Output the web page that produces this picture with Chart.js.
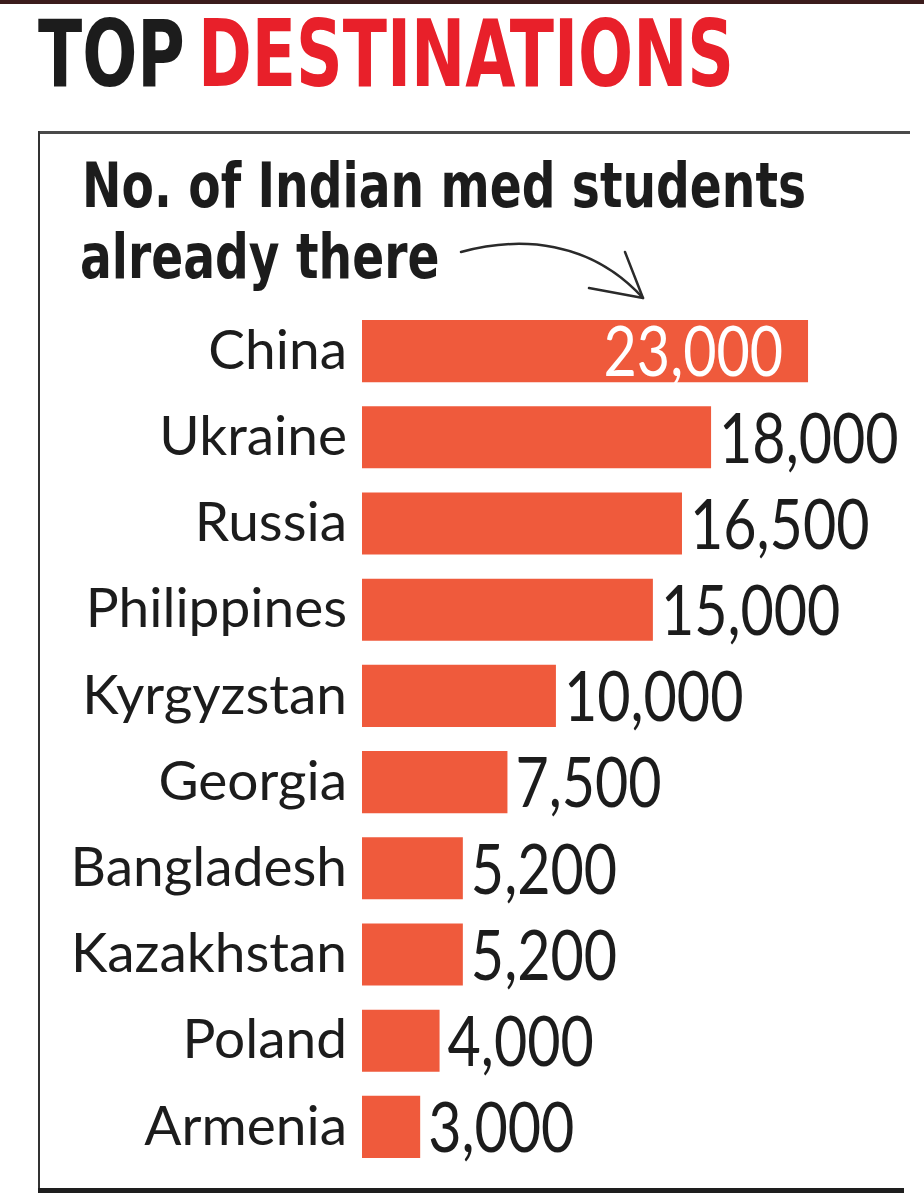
<!DOCTYPE html>
<html><head><meta charset="utf-8">
<script src="https://cdn.jsdelivr.net/npm/chart.js@4.4.1/dist/chart.umd.min.js"></script>
<style>
html,body{margin:0;padding:0;background:#fff;}
body{width:924px;height:1200px;position:relative;overflow:hidden;}
#c{position:absolute;left:0;top:0;}
.band{position:absolute;left:0;top:0;width:924px;height:4px;background:#3b1c1c;}
.boxTop{position:absolute;left:38px;top:131px;width:872px;height:3px;background:#4a4a4a;}
.boxLeft{position:absolute;left:38px;top:131px;width:2px;height:1062px;background:#333;}
.boxBottom{position:absolute;left:38px;top:1188px;width:866px;height:5px;background:#1e1e1e;}
.t{position:absolute;white-space:nowrap;line-height:1;transform-origin:0 0;font-family:'DejaVu Sans Condensed','DejaVu Sans',sans-serif;font-stretch:condensed;font-weight:bold;color:#1c1c1c;}
#title{left:38px;top:9px;font-size:92px;word-spacing:-12px;}
#title .red{color:#e8202a;}
#sub1{left:82px;top:155px;font-size:62px;}
#sub2{left:80px;top:226px;font-size:62px;}
svg{position:absolute;left:0;top:0;}
</style>
</head>
<body>
<canvas id="c" width="924" height="1200"></canvas>
<div class="band"></div>
<div class="boxTop"></div>
<div class="boxLeft"></div>
<div class="boxBottom"></div>
<div class="t" id="title"><span>TOP</span> <span class="red">DESTINATIONS</span></div>
<div class="t" id="sub1">No. of Indian med students</div>
<div class="t" id="sub2">already there</div>
<svg width="924" height="1200"><g fill="none" stroke="#2a2a2a" stroke-width="2.5" stroke-linecap="round" stroke-linejoin="round">
<path d="M461,252 C520,236 590,240 643,298"/>
<path d="M589,288 L643,298 L625,252"/>
</g></svg>
<script>
const countries = ["China","Ukraine","Russia","Philippines","Kyrgyzstan","Georgia","Bangladesh","Kazakhstan","Poland","Armenia"];
const students = [23000,18000,16500,15000,10000,7500,5200,5200,4000,3000];

function fit(el, target){
  const w = el.offsetWidth;
  const s = target / w;
  el.style.transform = 'scaleX(' + s + ')';
  return s;
}
function fitAll(){
  fit(document.getElementById('title'), 696);
  const s = fit(document.getElementById('sub1'), 724);
  document.getElementById('sub2').style.transform = 'scaleX(' + s + ')';
}
fitAll();

const valueLabels = {
  id: 'valueLabels',
  afterDatasetsDraw(chart){
    const ctx = chart.ctx;
    const meta = chart.getDatasetMeta(0);
    const size = 70, sx = 0.82;
    ctx.save();
    ctx.font = size + 'px Lato';
    meta.data.forEach((bar, i) => {
      const txt = students[i].toLocaleString('en-US');
      const w = ctx.measureText(txt).width * sx;
      const y = bar.y + size * 0.36;
      let x, color;
      if (bar.x + 9 + w > chart.width - 8) { x = bar.x - 25 - w; color = '#ffffff'; }
      else { x = bar.x + 8; color = '#1c1c1c'; }
      ctx.save();
      ctx.translate(x, y);
      ctx.scale(sx, 1);
      ctx.fillStyle = color;
      ctx.textAlign = 'left';
      ctx.textBaseline = 'alphabetic';
      ctx.fillText(txt, 0, 0);
      ctx.restore();
    });
    ctx.restore();
  }
};

new Chart(document.getElementById('c'), {
  type: 'bar',
  data: {
    labels: countries,
    datasets: [{
      data: students,
      backgroundColor: '#ef5a3c',
      borderWidth: 0,
      barPercentage: 0.72,
      categoryPercentage: 1.0
    }]
  },
  options: {
    indexAxis: 'y',
    responsive: false,
    animation: false,
    devicePixelRatio: 1,
    layout: { padding: { top: 308, bottom: 30, right: 19, left: 0 } },
    plugins: { legend: { display: false }, tooltip: { enabled: false }, title: { display: false } },
    scales: {
      x: { display: false, min: 0, max: 28000 },
      y: {
        grid: { display: false, drawTicks: false },
        border: { display: false },
        ticks: { autoSkip: false, padding: 15, color: '#1c1c1c', font: { family: 'Lato', size: 55 } },
        afterFit(scale){ scale.width = 362; scale.paddingTop = 0; scale.paddingBottom = 0; }
      }
    }
  },
  plugins: [valueLabels]
});
if (document.fonts && document.fonts.ready) document.fonts.ready.then(fitAll);
</script>
</body></html>
